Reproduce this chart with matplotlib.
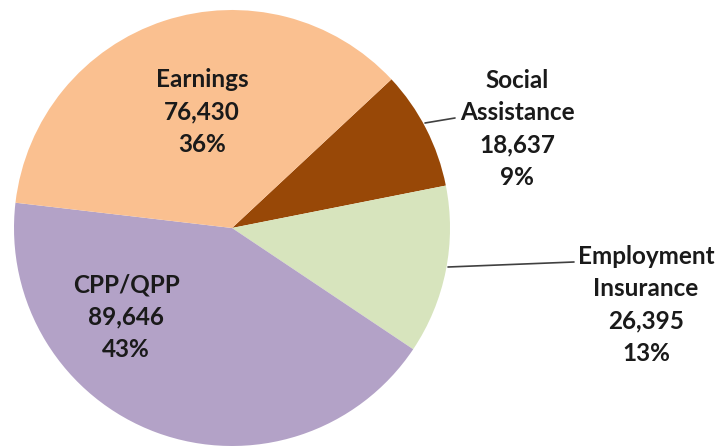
import matplotlib.pyplot as plt

categories = ['Social\nAssistance', 'Employment\nInsurance', 'CPP/QPP', 'Earnings']
values = [18637, 26395, 89646, 76430]
percents = [9, 13, 43, 36]
colors = ['#984807', '#D7E4BD', '#B3A2C7', '#FAC090']

plt.rcParams['font.family'] = ['Lato', 'DejaVu Sans']

fig = plt.figure(figsize=(7.24, 4.46), dpi=100)
# pie centre ~ (232, 228) px, radius ~218 px
R = 218
ax = fig.add_axes([(232 - R) / 724, (446 - 228 - R) / 446, 2 * R / 724, 2 * R / 446])
ax.pie(values, colors=colors, startangle=43, counterclock=False,
       radius=1, wedgeprops=dict(linewidth=0))
ax.set_xlim(-1, 1)
ax.set_ylim(-1, 1)
ax.axis('off')

def px(x, y):
    # pixel position -> data coords of the pie axes
    return (x - 232) / R, (228 - y) / R

labels = [f'{c}\n{v:,}\n{p}%' for c, v, p in zip(categories, values, percents)]
label_pos = [(517, 129), (646, 305), (126, 317), (202, 112)]

for lab, (x, y) in zip(labels, label_pos):
    ax.text(*px(x, y), lab, ha='center', va='center', fontsize=17.5,
            fontweight='bold', color='#1a1a1a', linespacing=1.5,
            clip_on=False)

# leader lines
ax.annotate('', xy=px(425, 123), xytext=px(455, 118),
            arrowprops=dict(arrowstyle='-', color='#404040', lw=1.2,
                            shrinkA=0, shrinkB=0), annotation_clip=False)
ax.annotate('', xy=px(448, 267), xytext=px(574, 262),
            arrowprops=dict(arrowstyle='-', color='#404040', lw=1.2,
                            shrinkA=0, shrinkB=0), annotation_clip=False)

fig.savefig('out.png', dpi=100, facecolor='w')
